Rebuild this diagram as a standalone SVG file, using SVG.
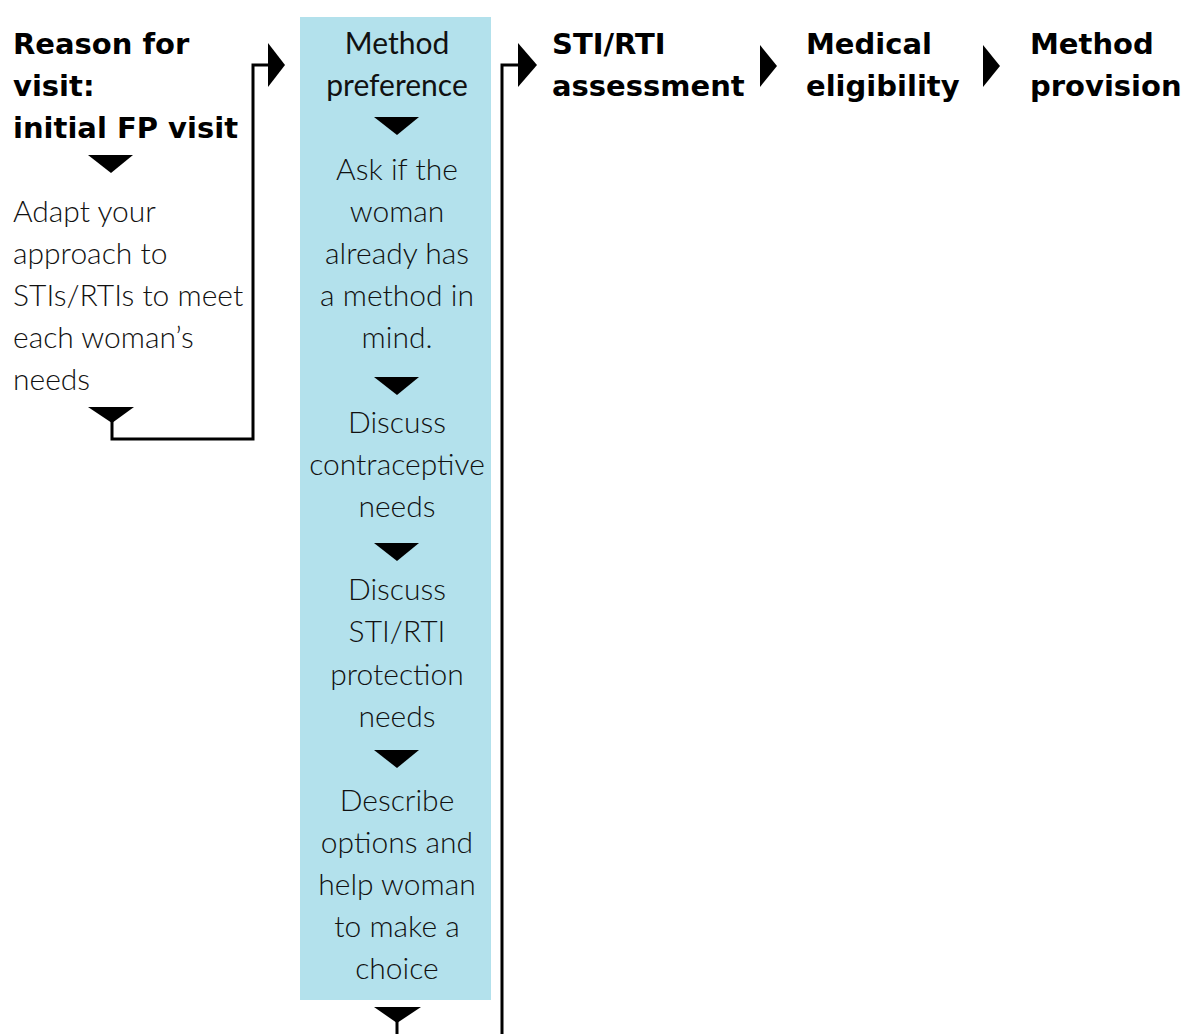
<svg xmlns="http://www.w3.org/2000/svg" width="1188" height="1034" viewBox="0 0 1188 1034">
<defs>
<style>
.h{font-family:"DejaVu Sans","Liberation Sans",sans-serif;font-weight:bold;font-size:29px;fill:#000}
.b{font-family:"Lato","Roboto","Liberation Sans",sans-serif;font-weight:300;font-size:30px;fill:#111}
.m{font-family:"Lato","Roboto","Liberation Sans",sans-serif;font-weight:400;font-size:30px;fill:#111}
.c{text-anchor:middle}
.ln{fill:none;stroke:#000;stroke-width:3}
.tri{fill:#000}
</style>
</defs>
<rect width="1188" height="1034" fill="#fff"/>
<g id="method-preference">
<rect x="300" y="17" width="191" height="983" fill="#b3e1ec"/>
<text class="m c" x="397" y="54">Method</text>
<text class="m c" x="397" y="96">preference</text>
<polygon class="tri" points="374,117 419,117 397,135"/>
<text class="b c" x="397" y="180">Ask if the</text>
<text class="b c" x="397" y="222">woman</text>
<text class="b c" x="397" y="264">already has</text>
<text class="b c" x="397" y="306">a method in</text>
<text class="b c" x="397" y="348">mind.</text>
<polygon class="tri" points="374,377 419,377 397,395"/>
<text class="b c" x="397" y="433">Discuss</text>
<text class="b c" x="397" y="475">contraceptive</text>
<text class="b c" x="397" y="517">needs</text>
<polygon class="tri" points="374,543 419,543 397,561"/>
<text class="b c" x="397" y="600">Discuss</text>
<text class="b c" x="397" y="642">STI/RTI</text>
<text class="b c" x="397" y="685">protection</text>
<text class="b c" x="397" y="727">needs</text>
<polygon class="tri" points="374,750 419,750 397,768"/>
<text class="b c" x="397" y="811">Describe</text>
<text class="b c" x="397" y="853">options and</text>
<text class="b c" x="397" y="895">help woman</text>
<text class="b c" x="397" y="937">to make a</text>
<text class="b c" x="397" y="979">choice</text>
</g>
<g id="reason-for-visit">
<text class="h" x="13" y="54">Reason for</text>
<text class="h" x="13" y="96">visit:</text>
<text class="h" x="13" y="138">initial FP visit</text>
<polygon class="tri" points="88,155 133,155 111,173"/>
<text class="b" x="13" y="222">Adapt your</text>
<text class="b" x="13" y="264">approach to</text>
<text class="b" x="13" y="306">STIs/RTIs to meet</text>
<text class="b" x="13" y="348">each woman’s</text>
<text class="b" x="13" y="390">needs</text>
</g>
<g id="sti-rti-assessment">
<text class="h" x="552" y="54">STI/RTI</text>
<text class="h" x="552" y="96">assessment</text>
</g>
<g id="medical-eligibility">
<text class="h" x="806" y="54">Medical</text>
<text class="h" x="806" y="96">eligibility</text>
</g>
<g id="method-provision">
<text class="h" x="1030" y="54">Method</text>
<text class="h" x="1030" y="96">provision</text>
</g>
<g id="connectors">
<polygon class="tri" points="88,407 134,407 112,423"/>
<polyline class="ln" points="112,420 112,439 253,439 253,65 270,65"/>
<polygon class="tri" points="268,43 285,65 268,87"/>
<polygon class="tri" points="374,1007 421,1007 397,1023"/>
<line class="ln" x1="397" y1="1020" x2="397" y2="1034"/>
<polyline class="ln" points="502,1034 502,65 520,65"/>
<polygon class="tri" points="518,43 537,65 518,87"/>
<polygon class="tri" points="760,45 777,66 760,87"/>
<polygon class="tri" points="983,45 1000,66 983,87"/>
</g>
</svg>
